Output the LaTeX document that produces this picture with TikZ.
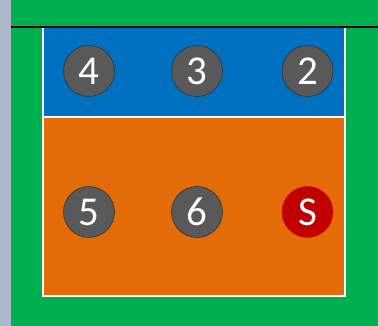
\documentclass[tikz,border=0pt]{standalone}
\usepackage{fontspec}
\newfontfamily\numfont{Carlito}
\definecolor{stripgray}{HTML}{ADB9CA}
\definecolor{fieldgreen}{HTML}{00B050}
\definecolor{courtblue}{HTML}{0070C0}
\definecolor{courtorange}{HTML}{E36C09}
\definecolor{playergray}{HTML}{595959}
\definecolor{servered}{HTML}{C00000}
\begin{document}
\begin{tikzpicture}[x=1pt,y=1pt,
  player/.style={circle, minimum size=51pt, inner sep=0pt, fill=playergray,
    draw=black!80, line width=0.6pt, text=white, font=\numfont\fontsize{41}{41}\selectfont},
  server/.style={player, fill=servered, draw=red!90!black},
  courtline/.style={white, line width=1.5pt}]
\useasboundingbox (0,0) rectangle (378,326);
\fill[stripgray] (0,0) rectangle (11,326);
\fill[fieldgreen] (11,0) rectangle (378,326);
\fill[courtblue] (43,209) rectangle (345,298);
\fill[courtorange] (43,30) rectangle (345,209);
\coordinate (tl) at (43,298);
\coordinate (tr) at (345,298);
\coordinate (bl) at (43,30);
\coordinate (br) at (345,30);
\coordinate (ml) at (43,209);
\coordinate (mr) at (345,209);
\coordinate (nl) at (11,298.5);
\coordinate (nr) at (378,298.5);
\draw[courtline] (tl) -- (bl) -- (br) -- (tr);
\draw[courtline] (ml) -- (mr);
\draw[black, line width=2pt] (nl) -- (nr);
\node[player] (p4) at (89,255) {4};
\node[player] (p3) at (197,255) {3};
\node[player] (p2) at (307.5,255) {2};
\node[player] (p5) at (89,114) {5};
\node[player] (p6) at (197,114) {6};
\node[server] (ps) at (307.5,114) {S};
\end{tikzpicture}
\end{document}
